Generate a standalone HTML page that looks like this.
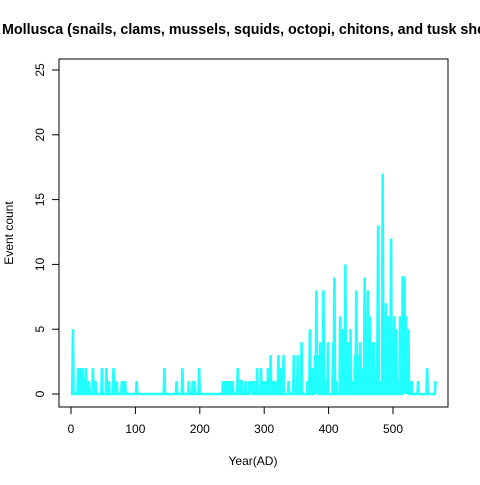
<!DOCTYPE html>
<html><head><meta charset="utf-8"><style>
body{margin:0;background:#fff}
svg text{font-family:"Liberation Sans",Arial,sans-serif;fill:#000}
</style></head><body>
<svg id="c" width="480" height="480" viewBox="0 0 480 480">
<text x="2" y="34" text-anchor="start" font-size="14.3" font-weight="bold">Mollusca (snails, clams, mussels, squids, octopi, chitons, and tusk shells)</text>
<rect x="59" y="59" width="389" height="348" fill="none" stroke="#000" stroke-width="1"/>
<g id="series"></g>
<g id="xaxis"></g>
<g id="yaxis"></g>
<text x="253" y="465" text-anchor="middle" font-size="12">Year(AD)</text>
<text transform="translate(13,233) rotate(-90)" text-anchor="middle" font-size="12">Event count</text>
</svg>
<script>
const years=[3,11,15,18,21,23,28,34,38,48,55,59,66,71,79,84,102,145,164,173,183,189,192,199,236,239,242,245,248,251,259,264,265,271,277,279,281,284,289,295,298,302,306,310,314,318,322,326,330,338,346,352,358,367,371,375,379,381,383,387,392,395,399,407,409,412,418,422,426,431,434,438,441,443,446,449,452,456,458,461,464,467,470,473,476,477,480,484,486,489,492,494,497,499,502,505,508,511,515,516,518,520,522,524,529,539,553,566];
const counts=[5,2,2,2,1,2,1,2,1,2,2,1,2,1,1,1,1,2,1,2,1,1,1,2,1,1,1,1,1,1,2,1,1,1,1,1,1,1,2,2,1,1,2,3,1,1,3,2,3,1,3,3,4,1,5,2,3,8,3,4,8,1,4,4,9,1,6,5,10,4,5,1,3,8,3,4,2,9,4,8,6,4,4,2,5,13,1,17,3,7,6,4,12,2,6,5,1,6,9,9,9,6,5,5,1,1,2,1];
const xTicks=[0,100,200,300,400,500];
const yTicks=[0,5,10,15,20,25];
const NS='http://www.w3.org/2000/svg';
const X=v=>71+v*0.644, Y=v=>394-v*12.96;
const map={};years.forEach((y,i)=>map[y]=counts[i]);
let d='';
for(let y=0;y<=566;y++){const v=map[y]||0;d+=(y?'L':'M')+X(y).toFixed(2)+','+Y(v).toFixed(2);}
const p=document.createElementNS(NS,'path');
p.setAttribute('d',d);p.setAttribute('fill','none');p.setAttribute('stroke','#22ffff');p.setAttribute('stroke-width','2.6');p.setAttribute('stroke-linejoin','miter');


document.getElementById('series').appendChild(p);
const xa=document.getElementById('xaxis');
function el(tag,attrs,parent,txt){const e=document.createElementNS(NS,tag);for(const k in attrs)e.setAttribute(k,attrs[k]);if(txt!=null)e.textContent=txt;parent.appendChild(e);return e;}
el('line',{x1:X(0),x2:X(500),y1:407,y2:407,stroke:'#000'},xa);
xTicks.forEach(t=>{
 const l=el('line',{x1:X(t),x2:X(t),y1:407,y2:414,stroke:'#000'},xa);
 
 
 const tx=el('text',{x:X(t),y:433,'text-anchor':'middle','font-size':'12'},xa,t);
 
 
});
const ya=document.getElementById('yaxis');
el('line',{x1:59,x2:59,y1:Y(0),y2:Y(25),stroke:'#000'},ya);
yTicks.forEach(t=>{
 const l=el('line',{x1:52,x2:59,y1:Y(t),y2:Y(t),stroke:'#000'},ya);
 
 
 const tx=el('text',{transform:`translate(44,${Y(t)}) rotate(-90)`,'text-anchor':'middle','font-size':'12'},ya,t);
 
 
});
</script>
</body></html>
